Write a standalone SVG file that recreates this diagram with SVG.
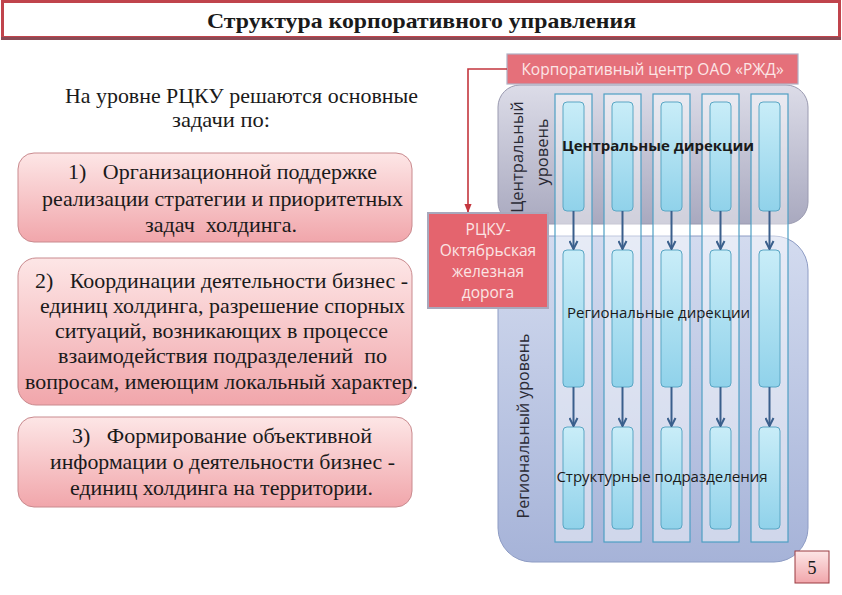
<svg xmlns="http://www.w3.org/2000/svg" width="842" height="595" viewBox="0 0 842 595">
<defs>
<linearGradient id="gPink" x1="0" y1="0" x2="0" y2="1">
<stop offset="0" stop-color="#fde6e6"/><stop offset="1" stop-color="#f1a6ab"/>
</linearGradient>
<linearGradient id="gCentral" x1="0" y1="0" x2="0" y2="1">
<stop offset="0" stop-color="#dcdce8"/><stop offset="1" stop-color="#a9a9bf"/>
</linearGradient>
<linearGradient id="gRegional" x1="0" y1="0" x2="0" y2="1">
<stop offset="0" stop-color="#d3dbef"/><stop offset="1" stop-color="#a6b3d8"/>
</linearGradient>
<linearGradient id="gBar" x1="0" y1="0" x2="0" y2="1">
<stop offset="0" stop-color="#c9edf8"/><stop offset="1" stop-color="#90d2ea"/>
</linearGradient>
<marker id="mBlue" viewBox="0 0 10 10" refX="9" refY="5" markerWidth="10" markerHeight="10" orient="auto" markerUnits="userSpaceOnUse">
<path d="M1,1 L9,5 L1,9" fill="none" stroke="#3a5f8c" stroke-width="2"/>
</marker>
<marker id="mRed" viewBox="0 0 10 10" refX="9" refY="5" markerWidth="9" markerHeight="9" orient="auto" markerUnits="userSpaceOnUse">
<path d="M0,1 L10,5 L0,9 z" fill="#c4363e"/>
</marker>
</defs>
<style>
.serif{font-family:"Liberation Serif","Times New Roman",serif;fill:#1a1a1a}
.sans{font-family:"Open Sans","Liberation Sans",sans-serif}
.pinkbox{fill:url(#gPink);stroke:#c98a8e;stroke-width:1}
.col{fill:#ffffff;fill-opacity:0.45;stroke:#4e9fc4;stroke-width:1.2}
.bar{fill:url(#gBar);stroke:#5aa6c4;stroke-width:1}
.arr{stroke:#3a5f8c;stroke-width:2;fill:none;marker-end:url(#mBlue)}
.lbl{font-size:15px;fill:#1a1a1a;text-anchor:middle}
.vlbl{fill:#2a2a35;text-anchor:middle}
.lt{font-size:21px;text-anchor:middle}
.rk{font-size:15.5px;fill:#fbe4e4;text-anchor:middle}
</style>

<rect x="0" y="0" width="842" height="595" fill="#ffffff"/>

<g id="title">
<rect x="2.5" y="1.5" width="837" height="36" fill="#ffffff" stroke="#c0444c" stroke-width="3"/>
<line x1="1" y1="38.5" x2="841" y2="38.5" stroke="#8a4a55" stroke-width="3"/>
<text x="421.5" y="28" class="serif" font-size="22" font-weight="bold" text-anchor="middle" textLength="429" lengthAdjust="spacingAndGlyphs">Структура корпоративного управления</text>
</g>

<g id="intro">
<text class="serif lt" x="241.5" y="103" textLength="353" lengthAdjust="spacingAndGlyphs">На уровне РЦКУ решаются основные</text>
<text class="serif lt" x="221" y="127" textLength="98" lengthAdjust="spacingAndGlyphs">задачи по:</text>
</g>

<g id="task1">
<rect class="pinkbox" x="18" y="153" width="394" height="89" rx="16"/>
<text class="serif lt" x="222.5" y="179" xml:space="preserve" textLength="309" lengthAdjust="spacingAndGlyphs">1)   Организационной поддержке</text>
<text class="serif lt" x="222.5" y="206" textLength="361" lengthAdjust="spacingAndGlyphs">реализации стратегии и приоритетных</text>
<text class="serif lt" x="221" y="232" xml:space="preserve" textLength="152" lengthAdjust="spacingAndGlyphs">задач  холдинга.</text>
</g>

<g id="task2">
<rect class="pinkbox" x="18" y="258" width="394" height="147" rx="18"/>
<text class="serif lt" x="221.5" y="288" xml:space="preserve" textLength="373" lengthAdjust="spacingAndGlyphs">2)   Координации деятельности бизнес -</text>
<text class="serif lt" x="222.5" y="313" textLength="365" lengthAdjust="spacingAndGlyphs">единиц холдинга, разрешение спорных</text>
<text class="serif lt" x="221.5" y="338" textLength="333" lengthAdjust="spacingAndGlyphs">ситуаций, возникающих в процессе</text>
<text class="serif lt" x="222.5" y="363" xml:space="preserve" textLength="329" lengthAdjust="spacingAndGlyphs">взаимодействия подразделений  по</text>
<text class="serif lt" x="221.5" y="389" textLength="393" lengthAdjust="spacingAndGlyphs">вопросам, имеющим локальный характер.</text>
</g>

<g id="task3">
<rect class="pinkbox" x="18" y="417" width="394" height="90" rx="16"/>
<text class="serif lt" x="222" y="443" xml:space="preserve" textLength="300" lengthAdjust="spacingAndGlyphs">3)   Формирование объективной</text>
<text class="serif lt" x="222.5" y="469" textLength="345" lengthAdjust="spacingAndGlyphs">информации о деятельности бизнес -</text>
<text class="serif lt" x="221.5" y="495" textLength="303" lengthAdjust="spacingAndGlyphs">единиц холдинга на территории.</text>
</g>

<g id="central-level">
<rect x="498" y="85" width="310" height="139" rx="22" fill="url(#gCentral)" stroke="#9a9ab0" stroke-width="1"/>
<text class="sans vlbl" font-size="16.5" transform="translate(523,157) rotate(-90)">Центральный</text>
<text class="sans vlbl" font-size="16.5" transform="translate(548,152) rotate(-90)">уровень</text>
</g>

<g id="regional-level">
<rect x="498" y="236" width="310" height="326" rx="34" fill="url(#gRegional)" stroke="#8e9cc4" stroke-width="1"/>
<text class="sans vlbl" font-size="16" transform="translate(529,426) rotate(-90)">Региональный уровень</text>
</g>

<g id="corporate-center">
<rect x="507" y="54" width="291" height="30" fill="#e5707a" stroke="#b0b0c4" stroke-width="1.2"/>
<text class="sans" x="652.5" y="75" font-size="15.5" fill="#fce6e6" text-anchor="middle">Корпоративный центр ОАО «РЖД»</text>
</g>

<g id="columns">
<rect class="col" x="555" y="94" width="37" height="448"/>
<rect class="col" x="604" y="94" width="37" height="448"/>
<rect class="col" x="653" y="94" width="37" height="448"/>
<rect class="col" x="702" y="94" width="37" height="448"/>
<rect class="col" x="751" y="94" width="37" height="448"/>
</g>

<g id="central-directions">
<rect class="bar" x="563" y="102" width="21" height="109" rx="4"/>
<rect class="bar" x="612" y="102" width="21" height="109" rx="4"/>
<rect class="bar" x="661" y="102" width="21" height="109" rx="4"/>
<rect class="bar" x="710" y="102" width="21" height="109" rx="4"/>
<rect class="bar" x="759" y="102" width="21" height="109" rx="4"/>
<text class="sans lbl" x="658" y="151" font-size="14.6" font-weight="bold">Центральные дирекции</text>
</g>

<g id="regional-directions">
<rect class="bar" x="563" y="250" width="21" height="137" rx="4"/>
<rect class="bar" x="612" y="250" width="21" height="137" rx="4"/>
<rect class="bar" x="661" y="250" width="21" height="137" rx="4"/>
<rect class="bar" x="710" y="250" width="21" height="137" rx="4"/>
<rect class="bar" x="759" y="250" width="21" height="137" rx="4"/>
<text class="sans lbl" x="658.5" y="318">Региональные дирекции</text>
</g>

<g id="structural-units">
<rect class="bar" x="563" y="427" width="21" height="102" rx="4"/>
<rect class="bar" x="612" y="427" width="21" height="102" rx="4"/>
<rect class="bar" x="661" y="427" width="21" height="102" rx="4"/>
<rect class="bar" x="710" y="427" width="21" height="102" rx="4"/>
<rect class="bar" x="759" y="427" width="21" height="102" rx="4"/>
<text class="sans lbl" x="662" y="482" font-size="16">Структурные подразделения</text>
</g>

<g id="connectors">
<path class="arr" d="M573.5,211 V249"/>
<path class="arr" d="M622.5,211 V249"/>
<path class="arr" d="M671.5,211 V249"/>
<path class="arr" d="M720.5,211 V249"/>
<path class="arr" d="M769.5,211 V249"/>
<path class="arr" d="M573.5,387 V426"/>
<path class="arr" d="M622.5,387 V426"/>
<path class="arr" d="M671.5,387 V426"/>
<path class="arr" d="M720.5,387 V426"/>
<path class="arr" d="M769.5,387 V426"/>
<path d="M507,69 H468 V212" fill="none" stroke="#c4363e" stroke-width="1.6" marker-end="url(#mRed)"/>
</g>

<g id="rcku">
<rect x="428" y="213" width="120" height="95" fill="#e4646e" stroke="#a8a8bc" stroke-width="2"/>
<text class="sans rk" x="488" y="235">РЦКУ-</text>
<text class="sans rk" x="488" y="256">Октябрьская</text>
<text class="sans rk" x="488" y="277">железная</text>
<text class="sans rk" x="488" y="298">дорога</text>
</g>

<g id="page-number">
<rect x="795" y="551" width="34" height="32" fill="url(#gPink)" stroke="#9a3a40" stroke-width="1"/>
<text class="serif" x="812" y="574" font-size="18" text-anchor="middle">5</text>
</g>
</svg>
